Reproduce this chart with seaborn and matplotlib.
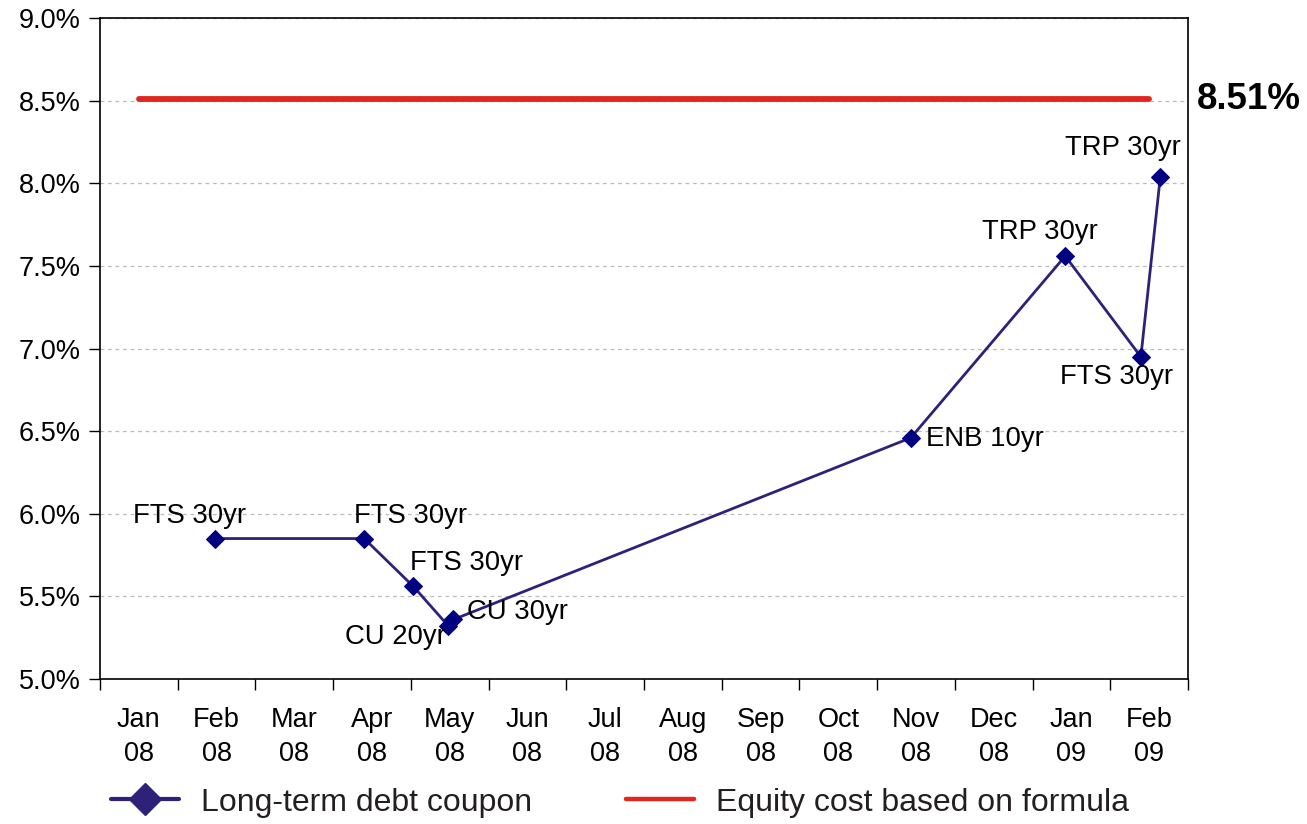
import calendar
from datetime import date

import matplotlib
matplotlib.use("Agg")
import matplotlib.pyplot as plt
import pandas as pd
import seaborn as sns
from matplotlib.lines import Line2D
from matplotlib.ticker import FixedLocator, FuncFormatter

# Long-term debt issues (issue date, coupon %, label)
issue_dates = ["2008-02-15", "2008-04-13", "2008-05-02", "2008-05-16", "2008-05-18",
               "2008-11-14", "2009-01-14", "2009-02-12", "2009-02-19"]
coupons = [5.85, 5.85, 5.56, 5.32, 5.36, 6.46, 7.56, 6.95, 8.04]
issue_labels = ["FTS 30yr", "FTS 30yr", "FTS 30yr", "CU 20yr", "CU 30yr",
                "ENB 10yr", "TRP 30yr", "FTS 30yr", "TRP 30yr"]

# Monthly axis categories and formula-based equity cost
months = ["Jan\n08", "Feb\n08", "Mar\n08", "Apr\n08", "May\n08", "Jun\n08", "Jul\n08",
          "Aug\n08", "Sep\n08", "Oct\n08", "Nov\n08", "Dec\n08", "Jan\n09", "Feb\n09"]
equity_cost = [8.51] * len(months)
equity_label = "8.51%"
y_ticks = [5.0, 5.5, 6.0, 6.5, 7.0, 7.5, 8.0, 8.5, 9.0]

DEBT_LINE = "#2E2178"
DEBT_MARK = "#000080"
EQUITY_RED = "#E0261F"


def month_position(iso):
    d = date.fromisoformat(iso)
    ndays = calendar.monthrange(d.year, d.month)[1]
    return (d.year - 2008) * 12 + (d.month - 1) + (d.day - 1) / ndays


debt = pd.DataFrame({"x": [month_position(s) for s in issue_dates], "coupon": coupons})
equity = pd.DataFrame({"x": [i + 0.5 for i in range(len(months))], "cost": equity_cost})

sns.set_theme(style="white")
plt.rcParams["font.family"] = ["Liberation Sans", "DejaVu Sans"]
plt.rcParams["text.color"] = "black"
plt.rcParams["xtick.color"] = "black"
plt.rcParams["ytick.color"] = "black"

fig = plt.figure(figsize=(13.07, 8.24), dpi=100)
ax = fig.add_axes([0.0765, 0.176, 0.8325, 0.802])

sns.lineplot(data=equity, x="x", y="cost", ax=ax, color=EQUITY_RED, linewidth=4.2,
             solid_capstyle="round", sort=False, legend=False)
sns.lineplot(data=debt, x="x", y="coupon", ax=ax, color=DEBT_LINE, linewidth=2.0,
             marker="D", markersize=9.5, markerfacecolor=DEBT_MARK,
             markeredgecolor=DEBT_MARK, sort=False, legend=False)

ax.set_xlim(0, len(months))
ax.set_ylim(5.0, 9.0)
ax.set_xlabel("")
ax.set_ylabel("")

# month boundaries as ticks, month names centred between them
ax.xaxis.set_major_locator(FixedLocator(range(len(months) + 1)))
ax.xaxis.set_minor_locator(FixedLocator([i + 0.5 for i in range(len(months))]))
ax.xaxis.set_major_formatter(FuncFormatter(lambda v, p: ""))
ax.xaxis.set_minor_formatter(FuncFormatter(lambda v, p: months[int(v)]))
ax.tick_params(axis="x", which="major", direction="out", length=8, width=1,
               bottom=True)
ax.tick_params(axis="x", which="minor", length=0, pad=20, labelsize=19.5,
               labelcolor="black")
for lbl in ax.xaxis.get_minorticklabels():
    lbl.set_linespacing(1.42)

ax.yaxis.set_major_locator(FixedLocator(y_ticks))
ax.yaxis.set_major_formatter(FuncFormatter(lambda v, p: f"{v:.1f}%"))
ax.tick_params(axis="y", direction="out", length=8, width=1, left=True, pad=6,
               labelsize=19.5, labelcolor="black")

for s in ax.spines.values():
    s.set_color("black")
    s.set_linewidth(1.2)
ax.grid(axis="y", color="#BBBBBB", linestyle=(0, (3, 3)), linewidth=0.9)
ax.set_axisbelow(True)

# issue labels
offsets = [(-26, 23, "center"), (46, 23, "center"), (53, 23, "center"),
           (-53, -11, "center"), (14, 7, "left"), (15, -1, "left"),
           (-25, 24, "center"), (-24, -20, "center"), (-37, 29, "center")]
for x, y, text, (dx, dy, ha) in zip(debt["x"], debt["coupon"], issue_labels, offsets):
    ax.annotate(text, (x, y), xytext=(dx, dy), textcoords="offset pixels",
                ha=ha, va="center", fontsize=19.8, color="black")

ax.annotate(equity_label, (1, equity_cost[0]), xycoords=("axes fraction", "data"),
            xytext=(9, 0), textcoords="offset pixels", ha="left", va="center",
            fontsize=26.5, fontweight="bold", color="black", annotation_clip=False)

legend_handles = [
    Line2D([], [], color=DEBT_LINE, linewidth=3, marker="D", markersize=16,
           markerfacecolor=DEBT_LINE, markeredgecolor=DEBT_LINE),
    Line2D([], [], color=EQUITY_RED, linewidth=3.2),
]
fig.legend(legend_handles, ["Long-term debt coupon", "Equity cost based on formula"],
           loc="center left", bbox_to_anchor=(0.085, 0.026), ncol=2, frameon=False,
           fontsize=23, handlelength=2.12, handletextpad=0.69, columnspacing=2.94,
           borderpad=0, borderaxespad=0, labelcolor="#231F20")

fig.savefig("out.png", dpi=100)
